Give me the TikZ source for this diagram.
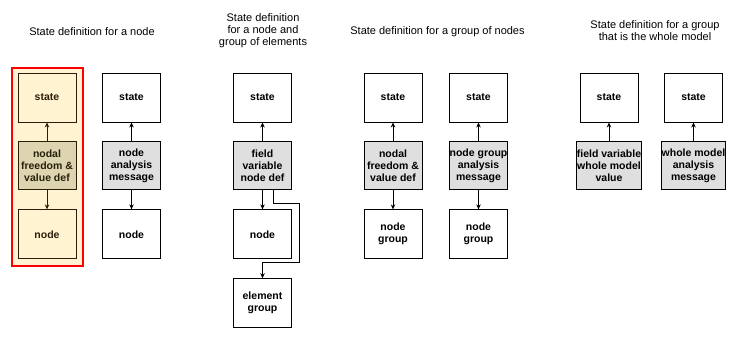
\documentclass[tikz,border=0pt]{standalone}
\usepackage{fontspec}
\setmainfont{Liberation Sans}
\usepackage{tikz}
\usetikzlibrary{arrows.meta, positioning, calc}

\definecolor{hlfill}{RGB}{255,243,210}
\definecolor{hldef}{RGB}{221,212,176}
\definecolor{hlink}{RGB}{40,31,10}

\begin{document}
\begin{tikzpicture}[
  x=1pt, y=-1pt,
  >={Stealth[length=5pt, width=4.5pt]},
  box/.style    = {draw, line width=0.9pt, minimum width=58pt, minimum height=49pt,
                   inner sep=0pt, align=center,
                   font=\bfseries\fontsize{10.5}{12}\selectfont},
  defbox/.style = {box, fill=gray!25, minimum height=48pt},
  hl/.style     = {draw=hlink, text=hlink, fill=hlfill},
  hldefbox/.style = {defbox, draw=hlink, text=hlink, fill=hldef},
  title/.style  = {align=center, font=\fontsize{11}{12}\selectfont},
  link/.style   = {->, line width=1pt},
]
  \useasboundingbox (0,0) rectangle (734,338);

  % titles
  \node[title] (t1) at (92,32)    {State definition for a node};
  \node[title] (t2) at (263,31)   {State definition\\for a node and\\group of elements};
  \node[title] (t3) at (437.5,32) {State definition for a group of nodes};
  \node[title] (t4) at (655,30.5) {State definition for a group\\that is the whole model};

  % highlight behind the first column
  \draw[red, line width=2pt, fill=hlfill] (12,68) rectangle (83,266);

  % state for a node
  \node[box, hl]                        (stA)   at (47,97.5)  {state};
  \node[hldefbox, below=19pt of stA]    (dofA)  {nodal\\freedom \&\\value def};
  \node[box, hl, below=19pt of dofA]    (ndA)   {node};

  \node[box]                          (stB)   at (131.5,97.5) {state};
  \node[defbox, below=19pt of stB]    (msgB)  {node\\analysis\\message};
  \node[box,    below=19pt of msgB]   (ndB)   {node};

  \draw[link, hlink] (dofA) -- (stA);
  \draw[link, hlink] (dofA) -- (ndA);
  \draw[link] (msgB) -- (stB);
  \draw[link] (msgB) -- (ndB);

  % state for a node and group of elements
  \node[box]                          (stC)   at (262.5,97.5) {state};
  \node[defbox, below=19pt of stC]    (fvC)   {field\\variable\\node def};
  \node[box,    below=19pt of fvC]    (ndC)   {node};
  \node[box,    below=19pt of ndC]    (elC)   {element\\group};

  \draw[link] (fvC) -- (stC);
  \draw[link] (fvC) -- (ndC);
  \draw[link] ([xshift=10.5pt]fvC.south) -- ++(0,13)
              -| ([xshift=8pt]ndC.east) |- ([yshift=16pt]elC.north) -- (elC.north);

  % state for a group of nodes
  \node[box]                          (stD)   at (393,97.5) {state};
  \node[defbox, below=19pt of stD]    (dofD)  {nodal\\freedom \&\\value def};
  \node[box,    below=19pt of dofD]   (ngD)   {node\\group};

  \node[box]                          (stE)   at (478.5,97.5) {state};
  \node[defbox, below=19pt of stE]    (msgE)  {node group\\analysis\\message};
  \node[box,    below=19pt of msgE]   (ngE)   {node\\group};

  \draw[link] (dofD) -- (stD);
  \draw[link] (dofD) -- (ngD);
  \draw[link] (msgE) -- (stE);
  \draw[link] (msgE) -- (ngE);

  % state for the whole model
  \node[box]                          (stF)   at (609,97.5) {state};
  \node[defbox, below=19pt of stF]    (fvF)   {field variable\\whole model\\value};

  \node[box]                          (stG)   at (693.5,97.5) {state};
  \node[defbox, below=19pt of stG]    (msgG)  {whole model\\analysis\\message};

  \draw[link] (fvF) -- (stF);
  \draw[link] (msgG) -- (stG);
\end{tikzpicture}
\end{document}
